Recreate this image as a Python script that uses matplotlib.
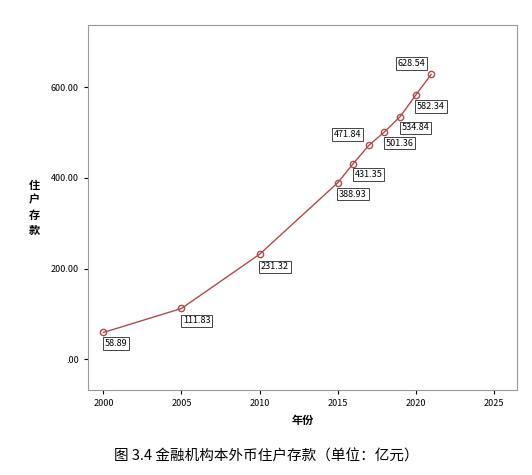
import matplotlib
matplotlib.use("Agg")
import matplotlib.pyplot as plt

plt.rcParams['font.family'] = ['Noto Sans CJK SC', 'DejaVu Sans']

years = [2000, 2005, 2010, 2015, 2016, 2017, 2018, 2019, 2020, 2021]
values = [58.89, 111.83, 231.32, 388.93, 431.35, 471.84, 501.36, 534.84, 582.34, 628.54]
labels = ["58.89", "111.83", "231.32", "388.93", "431.35", "471.84", "501.36", "534.84", "582.34", "628.54"]
# label offsets in points
offs = [(1, -8), (1, -9), (1, -9), (1, -8), (1, -8), (-25, 8), (1, -8), (1, -8), (1, -8), (-24, 8)]
yticks = [0, 200, 400, 600]
ytick_labels = [".00", "200.00", "400.00", "600.00"]
xticks = [2000, 2005, 2010, 2015, 2020, 2025]

fig = plt.figure(figsize=(5.32, 4.75), dpi=100)
ax = fig.add_axes([0.165, 0.179, 0.807, 0.768])
col = '#b04a4a'
ax.plot(years, values, color=col, lw=1.0, marker='o', ms=4.5, mfc='none', mec=col, mew=1.0)
for x, y, t, o in zip(years, values, labels, offs):
    ax.annotate(t, (x, y), xytext=o, textcoords='offset points', fontsize=6.5,
                ha='left', va='center',
                bbox=dict(boxstyle='square,pad=0.2', fc='white', ec='#444444', lw=0.7))
ax.set_xlim(1999.0, 2026.5)
ax.set_ylim(-68, 737)
ax.set_yticks(yticks)
ax.set_yticklabels(ytick_labels)
ax.set_xticks(xticks)
ax.tick_params(labelsize=6.5, length=3)
for s in ax.spines.values():
    s.set_color('#999999')
ax.set_xlabel('年份', fontsize=8, fontweight='bold')
ax.set_ylabel('住\n户\n存\n款', fontsize=8, fontweight='bold', rotation=0, va='center', labelpad=12)
fig.text(0.5, 0.03, '图 3.4 金融机构本外币住户存款（单位：亿元）', ha='center', fontsize=10.5)
fig.savefig('out.png', dpi=100)
